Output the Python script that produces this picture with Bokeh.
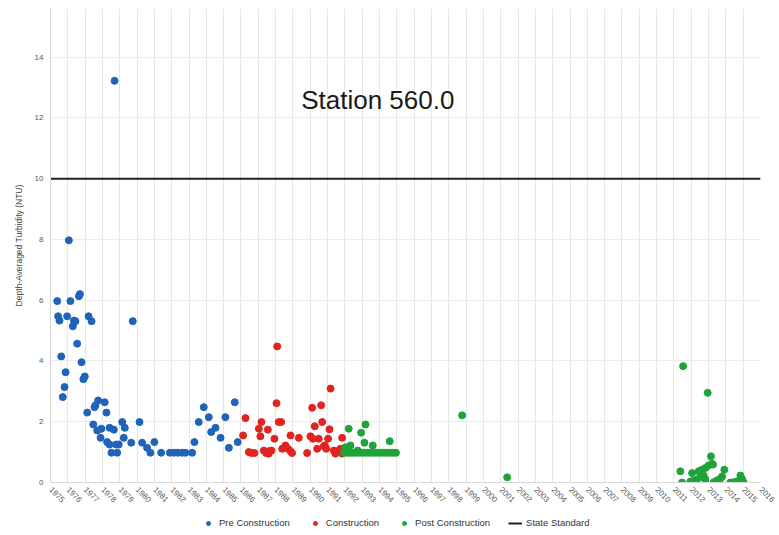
import math
from bokeh.plotting import figure
from bokeh.layouts import column
from bokeh.models import (FixedTicker, Legend, LegendItem, Label, Range1d)
from bokeh.embed import file_html
from bokeh.resources import INLINE

title_text = "Station 560.0"
y_label = "Depth-Averaged Turbidity (NTU)"
years = [1975, 1976, 1977, 1978, 1979, 1980, 1981, 1982, 1983, 1984, 1985, 1986, 1987,
         1988, 1989, 1990, 1991, 1992, 1993, 1994, 1995, 1996, 1997, 1998, 1999, 2000,
         2001, 2002, 2003, 2004, 2005, 2006, 2007, 2008, 2009, 2010, 2011, 2012, 2013,
         2014, 2015, 2016]
y_ticks = [0, 2, 4, 6, 8, 10, 12, 14]
state_standard = 10
series_names = ["Pre Construction", "Construction", "Post Construction", "State Standard"]

pre_x = [1976.06, 1975.39, 1976.15, 1976.64, 1976.70, 1975.44, 1975.52, 1975.96, 1976.35,
         1976.44, 1976.29, 1977.20, 1977.37, 1979.75, 1976.54, 1975.62, 1976.79, 1975.87,
         1976.98, 1976.90, 1975.81, 1975.71, 1977.12, 1977.60, 1977.75, 1977.54, 1978.13,
         1978.23, 1977.47, 1977.70, 1977.94, 1977.89, 1978.41, 1978.66, 1978.27, 1978.41,
         1978.79, 1978.94, 1978.52, 1978.85, 1979.14, 1979.29, 1979.23, 1979.66, 1980.14,
         1980.29, 1978.70, 1980.58, 1980.77, 1981.00, 1981.39, 1981.89, 1982.12, 1982.35,
         1982.60, 1982.79, 1983.18, 1983.31, 1983.56, 1983.85, 1984.14, 1984.28, 1984.53,
         1984.82, 1985.10, 1985.30, 1985.64, 1985.81]
pre_y = [7.97, 5.97, 5.97, 6.13, 6.20, 5.47, 5.33, 5.47, 5.33,
         5.31, 5.14, 5.47, 5.31, 5.31, 4.57, 4.15, 3.96, 3.63,
         3.49, 3.40, 3.14, 2.81, 2.30, 2.54, 2.70, 2.48, 2.64,
         2.30, 1.91, 1.71, 1.77, 1.47, 1.80, 1.74, 1.33, 1.25,
         1.25, 1.25, 0.98, 0.98, 1.99, 1.80, 1.47, 1.31, 1.99,
         1.31, 13.22, 1.14, 0.98, 1.33, 0.98, 0.98, 0.98, 0.98,
         0.98, 0.98, 0.98, 1.33, 1.99, 2.48, 2.15, 1.66, 1.80,
         1.47, 2.15, 1.14, 2.64, 1.33]

con_x = [1986.26, 1986.12, 1986.45, 1988.09, 1988.05, 1987.18, 1987.03, 1987.55, 1987.12,
         1987.93, 1988.18, 1988.32, 1988.86, 1989.34, 1990.11, 1990.63, 1991.17, 1990.26,
         1990.69, 1991.11, 1990.01, 1990.15, 1990.49, 1991.03, 1991.84, 1990.84, 1986.60,
         1986.78, 1987.32, 1987.45, 1987.60, 1987.76, 1987.60, 1988.38, 1988.57, 1988.72,
         1988.86, 1988.95, 1989.82, 1990.40, 1990.78, 1990.92, 1991.36, 1991.55, 1991.74,
         1991.84, 1991.45]
con_y = [2.12, 1.55, 1.00, 4.48, 2.61, 1.99, 1.77, 1.74, 1.52,
         1.44, 1.99, 1.99, 1.55, 1.47, 2.46, 2.54, 3.09, 1.85,
         1.99, 1.75, 1.52, 1.44, 1.44, 1.44, 1.47, 1.22, 0.97,
         0.97, 1.05, 0.97, 1.03, 1.05, 0.95, 1.11, 1.22, 1.11,
         1.03, 0.97, 0.97, 1.11, 1.19, 1.11, 1.05, 1.03, 1.11,
         0.95, 0.95]

post_x = [1992.22, 1993.19, 1992.94, 1993.13, 1993.61, 1994.59, 1992.03, 1992.32, 1992.74,
          1991.95, 1992.10, 1992.25, 1992.40, 1992.55, 1992.70, 1992.85, 1993.00, 1993.15,
          1993.30, 1993.45, 1993.60, 1993.75, 1993.90, 1994.05, 1994.20, 1994.35, 1994.50,
          1994.65, 1994.80, 1994.95,
          1998.77, 2001.37,
          2011.53, 2012.95, 2013.14, 2011.37, 2012.05, 2012.43, 2012.62, 2012.82, 2013.00,
          2013.20, 2013.91, 2014.84, 2011.47, 2011.95, 2012.14, 2012.33, 2012.53, 2012.72,
          2012.82, 2013.30, 2013.49, 2013.68, 2013.78, 2014.26, 2014.45, 2014.65, 2014.93,
          2015.02, 2013.26]
post_y = [1.77, 1.91, 1.64, 1.31, 1.22, 1.36, 1.16, 1.22, 1.05,
          0.98, 0.98, 0.98, 0.98, 0.98, 0.98, 0.98, 0.98, 0.98,
          0.98, 0.98, 0.98, 0.98, 0.98, 0.98, 0.98, 0.98, 0.98,
          0.98, 0.98, 0.98,
          2.21, 0.17,
          3.83, 2.95, 0.86, 0.37, 0.31, 0.37, 0.42, 0.48, 0.56,
          0.62, 0.42, 0.23, 0.00, 0.03, 0.06, 0.10, 0.17, 0.23,
          0.10, 0.01, 0.07, 0.12, 0.20, 0.00, 0.01, 0.04, 0.12,
          0.01, 0.59]

FONT = "Liberation Sans"
BLUE = "#1f64b9"
RED = "#e2231f"
GREEN = "#1fa43a"
BLACK = "#222222"

p = figure(width=779, height=512, output_backend="svg", toolbar_location=None,
           x_range=Range1d(years[0], years[-1]), y_range=Range1d(0, 15.6),
           min_border_left=50, min_border_right=19, min_border_top=8, min_border_bottom=30)
p.background_fill_color = "white"
p.border_fill_color = "white"
p.outline_line_color = None

p.xaxis.ticker = FixedTicker(ticks=years)
p.xaxis.major_label_orientation = -math.pi / 4
p.yaxis.ticker = FixedTicker(ticks=y_ticks)
for ax in (p.xaxis[0], p.yaxis[0]):
    ax.major_label_text_font = FONT
    ax.major_label_text_font_size = "8px"
    ax.major_label_text_color = "#555555"
    ax.major_tick_line_color = None
    ax.minor_tick_line_color = None
    ax.axis_line_color = "#d9d9d9"
    ax.major_tick_out = 2
p.xaxis.major_label_standoff = 4
p.yaxis.axis_label = y_label
p.yaxis.axis_label_text_font = FONT
p.yaxis.axis_label_text_font_size = "8.5px"
p.yaxis.axis_label_text_font_style = "normal"
p.yaxis.axis_label_text_color = "#444444"
p.yaxis.axis_label_standoff = 8

p.xgrid.grid_line_color = "#e6e6e6"
p.ygrid.grid_line_color = "#ececec"

p.scatter(pre_x, pre_y, size=7, color=BLUE)
p.scatter(con_x, con_y, size=7, color=RED)
p.scatter(post_x, post_y, size=7, color=GREEN)
p.line([years[0], years[-1]], [state_standard, state_standard], line_color=BLACK, line_width=2)

p.add_layout(Label(x=(years[0] + years[-1]) / 2 - 1.6, y=12.58, text=title_text,
                   text_font=FONT, text_font_size="26px", text_color="#1a1a1a",
                   text_align="center", text_baseline="middle"))

# legend strip below the chart (sample glyphs sit outside the strip's visible range)
lf = figure(width=779, height=21, output_backend="svg", toolbar_location=None,
            x_axis_location=None, y_axis_location=None,
            x_range=Range1d(0, 1), y_range=Range1d(0, 1),
            min_border_left=0, min_border_right=0, min_border_top=0, min_border_bottom=0)
lf.grid.visible = False
lf.outline_line_color = None
lf.background_fill_color = "white"
lf.border_fill_color = "white"
g1 = lf.scatter(pre_x[:1], pre_y[:1], size=7, color=BLUE)
g2 = lf.scatter(con_x[:1], con_y[:1], size=7, color=RED)
g3 = lf.scatter(post_x[:1], post_y[:1], size=7, color=GREEN)
g4 = lf.line(years[:2], [state_standard, state_standard], line_color=BLACK, line_width=2)

legend = Legend(items=[LegendItem(label=series_names[0], renderers=[g1]),
                       LegendItem(label=series_names[1], renderers=[g2]),
                       LegendItem(label=series_names[2], renderers=[g3]),
                       LegendItem(label=series_names[3], renderers=[g4])],
                orientation="horizontal", location=(151, 5),
                label_text_font=FONT, label_text_font_size="9.5px", label_text_color="#333333",
                glyph_width=14, glyph_height=10, label_height=10, spacing=18, padding=0,
                margin=0, label_standoff=4, border_line_color=None, background_fill_alpha=0)
lf.add_layout(legend, "center")

layout = column(p, lf, spacing=0)
open("out.html", "w").write(file_html(layout, INLINE))
